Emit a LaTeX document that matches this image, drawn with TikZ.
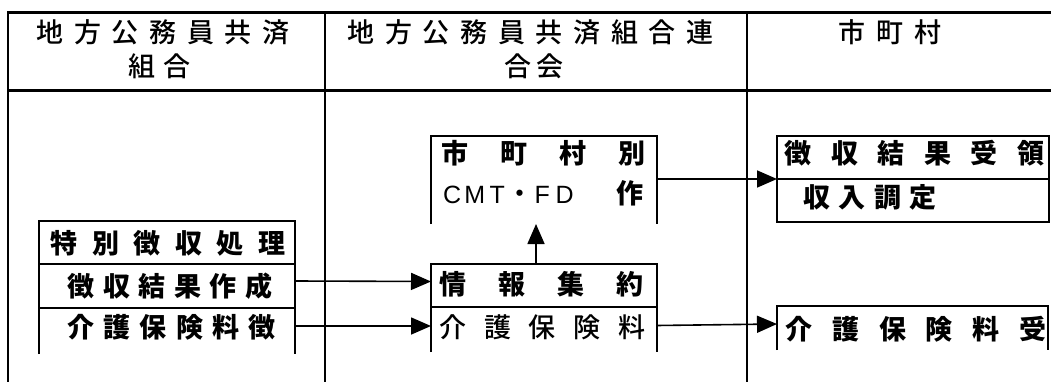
\documentclass[tikz,border=0pt]{standalone}
\usepackage{fontspec}
\setmainfont{Noto Sans CJK JP}
\newfontfamily\lat{Liberation Sans}
\newfontfamily\jpmed{Noto Sans CJK JP Medium}
\usetikzlibrary{arrows.meta}
\makeatletter
\newcommand\spr[2]{\@tfor\spr@c:=#2\do{\makebox[#1][c]{\spr@c}}}
\makeatother
\begin{document}
\begin{tikzpicture}[x=1pt,y=-1pt,
  tbl/.style={line width=2pt},
  tblthick/.style={line width=3pt},
  boxline/.style={line width=2pt, line join=miter},
  rowbox/.style={draw=none, inner sep=0pt, outer sep=0pt, rectangle},
  txt/.style={inner sep=0pt, font=\jpmed\fontsize{27}{31}\selectfont},
  btxt/.style={inner sep=0pt, font=\fontsize{27}{31}\selectfont\bfseries},
  arr/.style={line width=1.6pt, -{Triangle[length=20pt,width=17pt]}}]
\useasboundingbox (0,0) rectangle (1051,382);

% table frame
\draw[tblthick] (8,13) -- (1051,13);
\draw[tblthick] (8,91) -- (1051,91);
\draw[tbl] (8,11.5) -- (8,382);
\draw[tbl] (325,13) -- (325,382);
\draw[tbl] (747,13) -- (747,382);

% headers
\node[txt] (h1a) at (163,32.5) {\spr{37.7pt}{地方公務員共済}};
\node[txt] (h1b) at (159.5,66.5) {\spr{35pt}{組合}};
\node[txt] (h2a) at (530.5,32.5) {\spr{37.7pt}{地方公務員共済組合連}};
\node[txt] (h2b) at (534,66.5) {\spr{32pt}{合会}};
\node[txt] (h3) at (890,32.5) {\spr{37.7pt}{市町村}};

% box rows
\node[rowbox, minimum width=256pt, minimum height=43pt] (A1) at (167,242.5) {};
\node[rowbox, minimum width=256pt, minimum height=44pt] (A2) at (167,286) {};
\node[rowbox, minimum width=256pt, minimum height=46pt] (A3) at (167,331) {};
\node[rowbox, minimum width=226pt, minimum height=88pt] (B) at (544,180) {};
\node[rowbox, minimum width=226pt, minimum height=43pt] (C1) at (544,285.5) {};
\node[rowbox, minimum width=226pt, minimum height=45pt] (C2) at (544,329.5) {};
\node[rowbox, minimum width=272pt, minimum height=43pt] (D1) at (913,157.5) {};
\node[rowbox, minimum width=272pt, minimum height=43pt] (D2) at (913,200.5) {};
\node[rowbox, minimum width=271pt, minimum height=44pt] (E) at (912.5,328) {};

% box outlines
\draw[boxline] (A3.south west) -- (A1.north west) -- (A1.north east) -- (A3.south east);
\draw[boxline] (A1.south west) -- (A1.south east);
\draw[boxline] (A2.south west) -- (A2.south east);
\draw[boxline] (B.south west) -- (B.north west) -- (B.north east) -- (B.south east);
\draw[boxline] (C2.south west) -- (C1.north west) -- (C1.north east) -- (C2.south east);
\draw[boxline] (C1.south west) -- (C1.south east);
\draw[boxline] (D1.north west) rectangle (D2.south east);
\draw[boxline] (D1.south west) -- (D1.south east);
\draw[boxline] (E.south west) -- (E.north west) -- (E.north east) -- (E.south east);

% texts
\node[btxt] (tA1) at (168,243) {\spr{41.6pt}{特別徴収処理}};
\node[btxt] (tA2) at (170,286) {\spr{35.6pt}{徴収結果作成}};
\node[btxt] (tA3) at (171.5,327) {\spr{36.2pt}{介護保険料徴}};
\node[btxt] (tB1) at (543.5,153.5) {\spr{59pt}{市町村別}};
\node[inner sep=0pt, anchor=west] (tB2) at (440.75,193.5) {\lat\fontsize{25}{29}\selectfont\makebox[22.5pt]{C}\makebox[22.5pt]{M}\makebox[22.5pt]{T}\makebox[22.5pt]{\jpmed\fontsize{27}{31}\selectfont ・}\makebox[22.5pt]{F}\makebox[22.5pt]{D}\hspace{43.25pt}\makebox[22pt]{\normalfont\fontsize{27}{31}\selectfont\bfseries 作}};
\node[btxt] (tC1) at (541.5,284) {\spr{59pt}{情報集約}};
\node[txt] (tC2) at (542.5,327) {\spr{44.75pt}{介護保険料}};
\node[btxt] (tD1) at (914.5,153) {\spr{46.6pt}{徴収結果受領}};
\node[btxt] (tD2) at (870,197.5) {\spr{35.3pt}{収入調定}};
\node[btxt] (tE) at (916,329) {\spr{46.8pt}{介護保険料受}};

% connectors
\draw[arr] ([yshift=5pt]A2.east) -- ([yshift=4pt]C1.west);
\draw[arr] ([yshift=5pt]A3.east) -- ([yshift=3.5pt]C2.west);
\draw[arr] ([xshift=-8pt]C1.north) -- ([xshift=-8pt]B.south);
\draw[arr] (D1.south west -| B.east) -- (D1.south west);
\draw[arr] ([yshift=4pt]C2.east) -- ([yshift=4pt]E.west);
\end{tikzpicture}
\end{document}
